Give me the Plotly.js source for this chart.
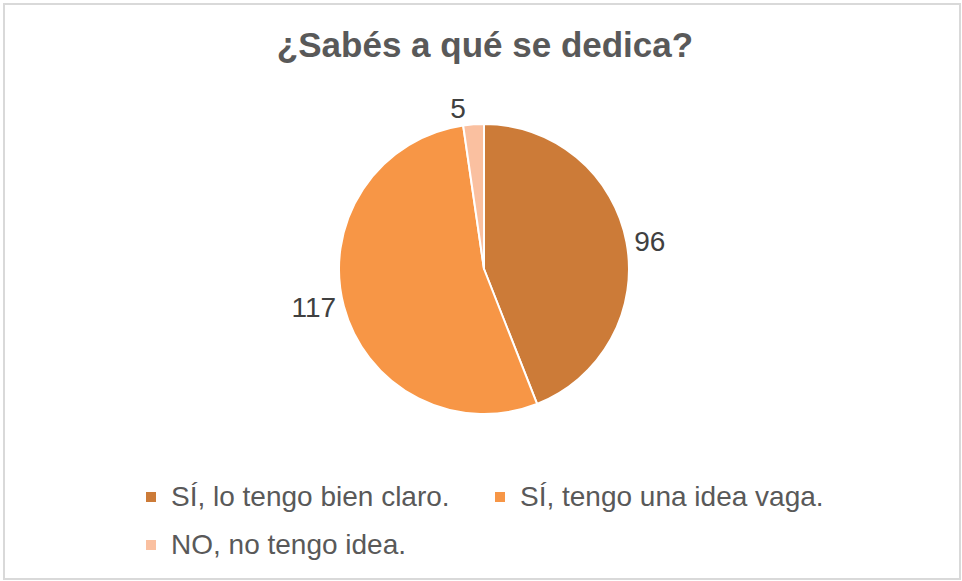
<!DOCTYPE html>
<html>
<head>
<meta charset="utf-8">
<script src="https://cdn.plot.ly/plotly-3.0.1.min.js"></script>
<style>html,body{margin:0;padding:0;background:#fff;}#chart{width:962px;height:581px;}</style>
</head>
<body>
<div id="chart"></div>
<script>
const chartTitle = "¿Sabés a qué se dedica?";
const categories = ["SÍ, lo tengo bien claro.", "SÍ, tengo una idea vaga.", "NO, no tengo idea."];
const counts = [96, 117, 5];
const sliceColors = ["#CC7B38", "#F79646", "#FAC0A0"];

const W = 962, H = 581;
const mL = 60, mR = 60, mT = 0, mB = 0;
const pw = W - mL - mR, ph = H - mT - mB;
const px = x => (x - mL) / pw;
const py = y => 1 - (y - mT) / ph;

const legendLabels = categories.map(c => '<span style="font-size:28px;baseline-shift:4px">' + c + '</span>');

const trace = {
  type: "pie",
  labels: legendLabels,
  values: counts,
  sort: false,
  direction: "clockwise",
  rotation: 0,
  marker: {colors: sliceColors, line: {color: "#ffffff", width: 2}},
  texttemplate: "%{value}",
  textposition: "outside",
  textfont: {family: "Liberation Sans, Arial, sans-serif", size: 28, color: "#404040"},
  hoverinfo: "none",
  domain: {x: [px(339), px(629)], y: [py(414), py(124)]}
};

const layout = {
  width: W, height: H,
  margin: {l: mL, r: mR, t: mT, b: mB},
  paper_bgcolor: "#ffffff",
  font: {family: "Liberation Sans, Arial, sans-serif", color: "#595959"},
  title: {
    text: "<b>" + chartTitle + "</b>",
    font: {family: "Liberation Sans, Arial, sans-serif", size: 35, color: "#595959"},
    x: 485 / W, xanchor: "center", xref: "container",
    y: 1 - 45 / H, yanchor: "middle", yref: "container"
  },
  showlegend: true,
  legend: {
    orientation: "h",
    x: px(131), xanchor: "left",
    y: py(468), yanchor: "top",
    font: {family: "Liberation Sans, Arial, sans-serif", size: 34.6, color: "#595959"},
    entrywidth: 304, entrywidthmode: "pixels",
    traceorder: "normal"
  },
  shapes: [{
    type: "rect", xref: "paper", yref: "paper",
    x0: px(4), x1: px(960), y0: py(579), y1: py(4),
    line: {color: "#D9D9D9", width: 2}, fillcolor: "rgba(0,0,0,0)", layer: "below"
  }]
};

Plotly.newPlot("chart", [trace], layout, {displayModeBar: false, staticPlot: true});
</script>
</body>
</html>
